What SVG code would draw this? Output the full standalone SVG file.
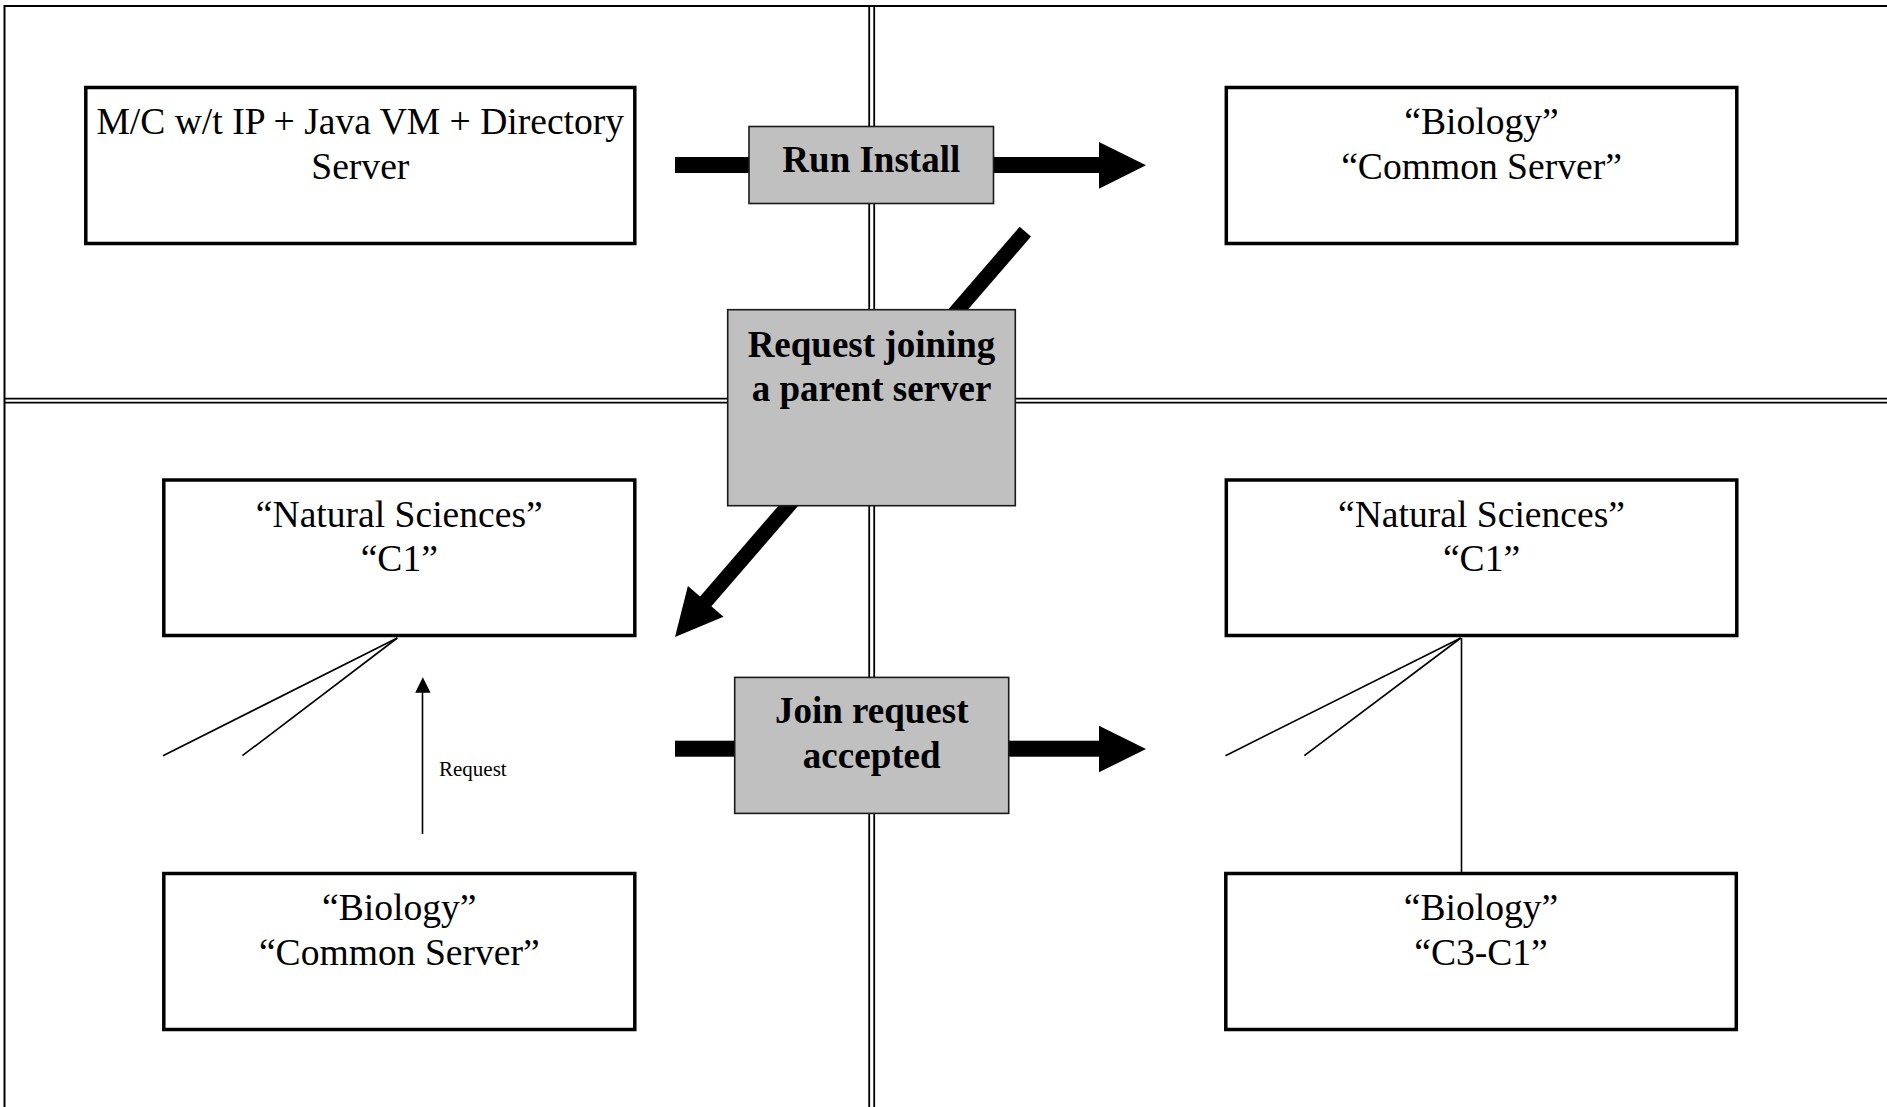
<svg xmlns="http://www.w3.org/2000/svg" width="1887" height="1107" viewBox="0 0 1887 1107">
  <style>
    .frame { stroke: #000; stroke-width: 2; fill: none; }
    .dbl { stroke: #000; stroke-width: 1.8; fill: none; }
    .box { fill: #fff; stroke: #000; stroke-width: 3.5; }
    .step { fill: #c0c0c0; stroke: #1a1a1a; stroke-width: 1.6; }
    .lbl { font-family: "Liberation Serif", "Times New Roman", serif; font-size: 37.6px; fill: #000; text-anchor: middle; }
    .steplbl { font-family: "Liberation Serif", "Times New Roman", serif; font-size: 37px; font-weight: bold; fill: #000; text-anchor: middle; }
    .small { font-family: "Liberation Serif", "Times New Roman", serif; font-size: 21px; fill: #000; }
    .thin { stroke: #000; stroke-width: 1.6; fill: none; }
    .bar { stroke: #000; stroke-width: 15; fill: none; stroke-linecap: butt; }
    .head { fill: #000; stroke: none; }
  </style>

  <rect width="1887" height="1107" fill="#fff"/>

  <!-- panel frame and quadrant dividers -->
  <g id="frame">
    <line class="frame" x1="4.5" y1="6" x2="1887" y2="6"/>
    <line class="frame" x1="4.5" y1="5" x2="4.5" y2="1107"/>
    <line class="dbl" x1="4.5" y1="398.7" x2="1887" y2="398.7"/>
    <line class="dbl" x1="4.5" y1="402.7" x2="1887" y2="402.7"/>
    <line class="dbl" x1="869.2" y1="6" x2="869.2" y2="1107"/>
    <line class="dbl" x1="874.2" y1="6" x2="874.2" y2="1107"/>
  </g>

  <!-- connectors -->
  <g id="connectors">
    <!-- Run Install arrow -->
    <rect class="head" x="675" y="157" width="424" height="16"/>
    <polygon class="head" points="1099,142 1146,165.3 1099,188.7"/>
    <!-- Request joining arrow (diagonal) -->
    <line class="bar" x1="1025.3" y1="231.7" x2="704" y2="603.4"/>
    <polygon class="head" points="675,637 687.9,586 723.5,616.8"/>
    <!-- Join request accepted arrow -->
    <rect class="head" x="675" y="740.7" width="424" height="16"/>
    <polygon class="head" points="1099,725.7 1146,749 1099,772.3"/>
    <!-- lower-left tree stubs -->
    <line class="thin" x1="397.3" y1="638" x2="163" y2="755.7"/>
    <line class="thin" x1="397.3" y1="638" x2="242.4" y2="755.7"/>
    <!-- Request arrow -->
    <line class="thin" x1="422.5" y1="834" x2="422.5" y2="690"/>
    <polygon class="head" points="422.8,677.3 415.2,692.7 430.6,692.7"/>
    <text class="small" x="439" y="776">Request</text>
    <!-- lower-right tree -->
    <line class="thin" x1="1460.8" y1="638" x2="1225.5" y2="755.7"/>
    <line class="thin" x1="1460.8" y1="638" x2="1304.3" y2="755.7"/>
    <line class="thin" x1="1461.5" y1="638" x2="1461.5" y2="872"/>
  </g>

  <!-- nodes -->
  <g id="machine">
    <rect class="box" x="85.8" y="87.5" width="549" height="156"/>
    <text class="lbl" x="360.3" y="134">M/C w/t IP + Java VM + Directory</text>
    <text class="lbl" x="360.3" y="179">Server</text>
  </g>

  <g id="run-install">
    <rect class="step" x="749" y="126.5" width="244.5" height="77"/>
    <text class="steplbl" x="871.3" y="171.5">Run Install</text>
  </g>

  <g id="biology-common-top">
    <rect class="box" x="1226.3" y="87.5" width="510.5" height="156"/>
    <text class="lbl" x="1481.5" y="134">“Biology”</text>
    <text class="lbl" x="1481.5" y="179">“Common Server”</text>
  </g>

  <g id="request-joining">
    <rect class="step" x="727.7" y="309.7" width="287.6" height="196"/>
    <text class="steplbl" x="871.5" y="357">Request joining</text>
    <text class="steplbl" x="871.5" y="401">a parent server</text>
  </g>

  <g id="natural-sciences-left">
    <rect class="box" x="163.8" y="480" width="471" height="155.5"/>
    <text class="lbl" x="399.3" y="527">“Natural Sciences”</text>
    <text class="lbl" x="399.3" y="571">“C1”</text>
  </g>

  <g id="join-accepted">
    <rect class="step" x="734.7" y="677.4" width="274" height="136"/>
    <text class="steplbl" x="871.7" y="723">Join request</text>
    <text class="steplbl" x="871.7" y="768">accepted</text>
  </g>

  <g id="natural-sciences-right">
    <rect class="box" x="1226.3" y="480" width="510.5" height="155.5"/>
    <text class="lbl" x="1481.5" y="527">“Natural Sciences”</text>
    <text class="lbl" x="1481.5" y="571">“C1”</text>
  </g>

  <g id="biology-common-bottom">
    <rect class="box" x="163.8" y="873.5" width="471" height="156"/>
    <text class="lbl" x="399.3" y="920">“Biology”</text>
    <text class="lbl" x="399.3" y="965">“Common Server”</text>
  </g>

  <g id="biology-c3-c1">
    <rect class="box" x="1225.8" y="873.5" width="510.5" height="156"/>
    <text class="lbl" x="1481" y="920">“Biology”</text>
    <text class="lbl" x="1481" y="965">“C3-C1”</text>
  </g>
</svg>
